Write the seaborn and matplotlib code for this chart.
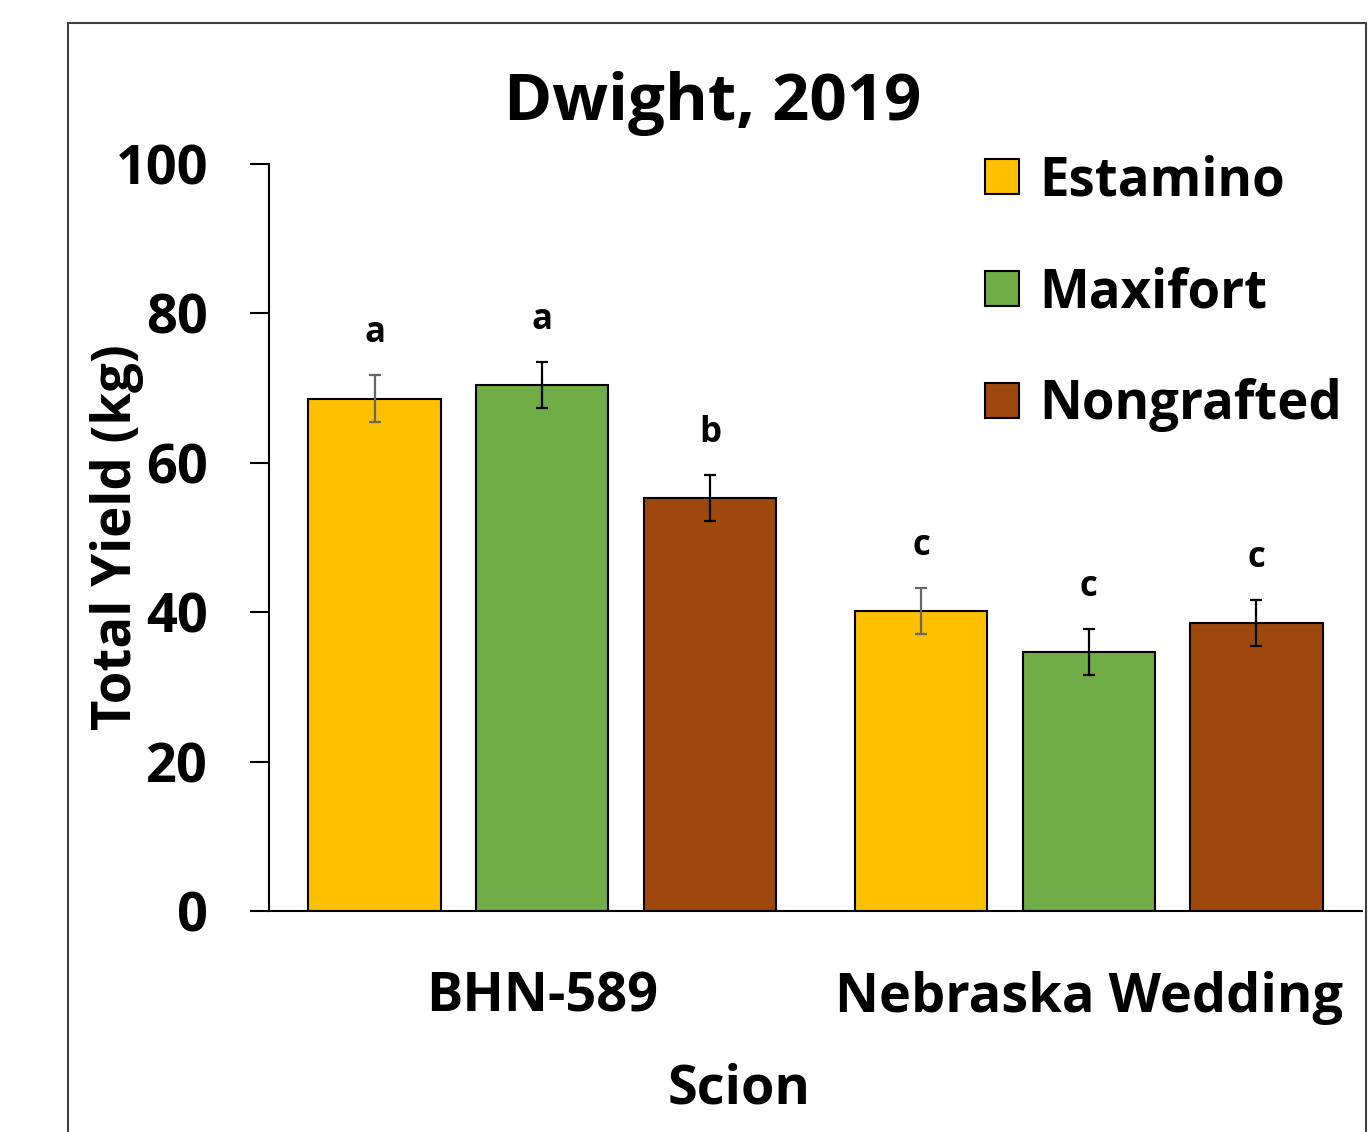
import matplotlib
matplotlib.use('Agg')
import matplotlib.pyplot as plt
from matplotlib.patches import Rectangle
import pandas as pd
import seaborn as sns

# data
scions = ['BHN-589', 'Nebraska Wedding']
rootstocks = ['Estamino', 'Maxifort', 'Nongrafted']
yield_bhn = [68.6, 70.4, 55.3]
yield_nw = [40.2, 34.7, 38.6]
se_bhn = [3.2, 3.1, 3.1]
se_nw = [3.1, 3.1, 3.1]
letters_bhn = ['a', 'a', 'b']
letters_nw = ['c', 'c', 'c']
yticks = [0, 20, 40, 60, 80, 100]

colors = ['#FFC000', '#70AD47', '#9E480E']
err_colors = ['#666666', 'black', 'black']

rows = []
for scion, ys, ses, lets in [(scions[0], yield_bhn, se_bhn, letters_bhn),
                             (scions[1], yield_nw, se_nw, letters_nw)]:
    for rs, y, se, let in zip(rootstocks, ys, ses, lets):
        rows.append({'Scion': scion, 'Rootstock': rs, 'Yield': y, 'SE': se, 'Letter': let})
df = pd.DataFrame(rows)

sns.set_style('white')
plt.rcParams['font.family'] = ['Open Sans', 'DejaVu Sans']
plt.rcParams['font.weight'] = 'bold'
for key in ['text.color', 'axes.labelcolor', 'xtick.color', 'ytick.color']:
    plt.rcParams[key] = 'black'

fig = plt.figure(figsize=(13.7, 11.32), dpi=100)
ax = fig.add_axes([269 / 1370, 1 - 911 / 1132, (1362 - 269) / 1370, (911 - 164) / 1132])

sns.barplot(data=df, x='Scion', y='Yield', hue='Rootstock', order=scions,
            hue_order=rootstocks, palette=colors, width=0.92, gap=0.21,
            edgecolor='black', linewidth=1.5, errorbar=None, saturation=1, ax=ax)

# error bars and letters on top of each bar (sorted left to right = df row order)
bars = sorted([p for p in ax.patches if p.get_height() > 0], key=lambda p: p.get_x())
for i, (p, row) in enumerate(zip(bars, df.itertuples())):
    cx = p.get_x() + p.get_width() / 2
    ax.errorbar(cx, row.Yield, yerr=row.SE, fmt='none', ecolor=err_colors[i % 3],
                elinewidth=1.6, capsize=4.5, capthick=1.6, zorder=5)
    ax.text(cx, row.Yield + row.SE + 5.6, row.Letter, ha='center', va='center',
            fontsize=25, fontweight='bold')

ax.set_ylim(0, 100)
ax.set_xlim(-0.5, 1.5)
ax.set_yticks(yticks)
ax.tick_params(axis='y', direction='out', length=14, width=1.5, pad=30,
               labelsize=39, left=True)
ax.tick_params(axis='x', length=0, pad=43, labelsize=39)
for lab in ax.get_xticklabels() + ax.get_yticklabels():
    lab.set_fontweight('bold')

ax.set_ylabel('Total Yield (kg)', fontsize=38, fontweight='bold')
ax.yaxis.set_label_coords(-0.114, 0.5)
ax.set_xlabel('Scion', fontsize=39, fontweight='bold')
ax.xaxis.set_label_coords(0.43, -0.203)

ax.spines['top'].set_visible(False)
ax.spines['right'].set_visible(False)
for s in ['left', 'bottom']:
    ax.spines[s].set_linewidth(1.5)
    ax.spines[s].set_color('black')

# legend
old = ax.get_legend()
handles = old.legend_handles
labels = [t.get_text() for t in old.get_texts()]
old.remove()
leg = fig.legend(handles, labels, loc='upper left', bbox_to_anchor=(985 / 1370, 1 - 154 / 1132),
                 frameon=False, fontsize=38, handlelength=0.64, handleheight=0.64,
                 handletextpad=0.38, labelspacing=1.1, borderpad=0, borderaxespad=0)
for h in leg.legend_handles:
    h.set_edgecolor('black')
    h.set_linewidth(1.5)
for t in leg.get_texts():
    t.set_fontweight('bold')

fig.text(713 / 1370, 1 - 104 / 1132, 'Dwight, 2019', ha='center', va='center',
         fontsize=47, fontweight='bold')

# outer frame
fig.add_artist(Rectangle((68 / 1370, -0.05), (1366 - 68) / 1370, 0.05 + 1 - 23 / 1132,
                         transform=fig.transFigure, fill=False, edgecolor='#404040', lw=1.5))

fig.savefig('out.png', dpi=100)
